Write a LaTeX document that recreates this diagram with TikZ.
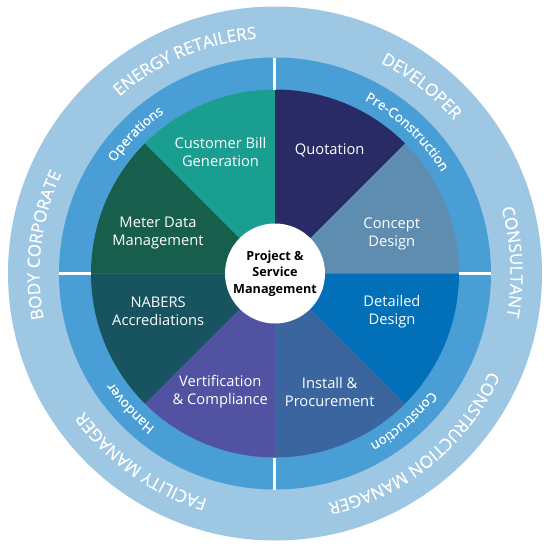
\documentclass[tikz,border=0pt]{standalone}
\usepackage{fontspec}
\setmainfont{Open Sans}
\newfontfamily\ringfont[FakeBold=0.5]{Open Sans}
\usetikzlibrary{decorations.text}
\definecolor{outerring}{RGB}{157,199,226}
\definecolor{midring}{RGB}{74,158,214}
\definecolor{cquot}{RGB}{41,43,102}
\definecolor{cconcept}{RGB}{95,141,176}
\definecolor{cdetail}{RGB}{2,112,184}
\definecolor{cinstall}{RGB}{58,101,159}
\definecolor{cverif}{RGB}{82,82,162}
\definecolor{cnabers}{RGB}{23,84,96}
\definecolor{cmeter}{RGB}{23,94,76}
\definecolor{ccust}{RGB}{26,158,143}
\begin{document}
\begin{tikzpicture}[x=1pt,y=1pt,
  seclabel/.style={text=white,align=center,font=\fontsize{14.7}{18}\selectfont},
  hublabel/.style={text=black,align=center,font=\bfseries\fontsize{12.6}{16.5}\selectfont},
  outerlabel/.style={decorate,decoration={text along path,text align=center,text color=white,
     text={|\ringfont\fontsize{17}{17}\selectfont|#1}}},
  midlabel/.style={decorate,decoration={text along path,text align=center,text color=white,
     text={|\ringfont\fontsize{13.5}{13.5}\selectfont|#1}}},
  gapline/.style={white,line width=3pt}]
\useasboundingbox (-275,-276.5) rectangle (275,273.5);
\coordinate (c) at (0,0);
% rings
\fill[outerring] (c) circle[radius=267];
\fill[midring] (c) circle[radius=216];
% sectors
\foreach \s/\col in {45/cquot,0/cconcept,-45/cdetail,-90/cinstall,225/cverif,180/cnabers,135/cmeter,90/ccust}{
  \fill[\col] (c) -- (\s:184) arc[start angle=\s,end angle=\s+45,radius=184] -- cycle;
}
% gaps in the middle ring
\foreach \a in {0,90,180,270}{
  \draw[gapline] (\a:184) -- (\a:216);
}
% hub
\fill[white] (c) circle[radius=50];
\node[hublabel] (hub) at (c) {Project \&\\Service\\Management};
% sector labels
\node[seclabel] (cust) at (-54.5,121.5) {Customer Bill\\Generation};
\node[seclabel] (quot) at (54.7,122.7) {Quotation};
\node[seclabel] (meter) at (-117,40.5) {Meter Data\\Management};
\node[seclabel] (concept) at (116.8,39.5) {Concept\\Design};
\node[seclabel] (nabers) at (-116.8,-38.2) {NABERS\\Accrediations};
\node[seclabel] (detail) at (117,-38.2) {Detailed\\Design};
\node[seclabel] (verif) at (-54.7,-118.2) {Vertification\\\& Compliance};
\node[seclabel] (install) at (54.7,-118.2) {Install \&\\Procurement};
% outer ring labels (clockwise)
\path[outerlabel={ENERGY RETAILERS}] (157.9:235.5) arc[start angle=157.9,end angle=67.9,radius=235.5];
\path[outerlabel={DEVELOPER}] (97:235.5) arc[start angle=97,end angle=7,radius=235.5];
\path[outerlabel={CONSULTANT}] (47.8:235.5) arc[start angle=47.8,end angle=-42.2,radius=235.5];
\path[outerlabel={CONSTRUCTION MANAGER}] (-5.7:235.5) arc[start angle=-5.7,end angle=-95.7,radius=235.5];
\path[outerlabel={FACILITY MANAGER}] (279.6:235.5) arc[start angle=279.6,end angle=189.6,radius=235.5];
\path[outerlabel={BODY CORPORATE}] (218:235.5) arc[start angle=218,end angle=128,radius=235.5];
% middle ring labels (clockwise)
\path[midlabel={Operations}] (175:195) arc[start angle=175,end angle=95,radius=195];
\path[midlabel={Pre-Construction}] (87:195) arc[start angle=87,end angle=7,radius=195];
\path[midlabel={Construction}] (-8.9:195) arc[start angle=-8.9,end angle=-88.9,radius=195];
\path[midlabel={Handover}] (262.9:195) arc[start angle=262.9,end angle=182.9,radius=195];
\end{tikzpicture}
\end{document}
